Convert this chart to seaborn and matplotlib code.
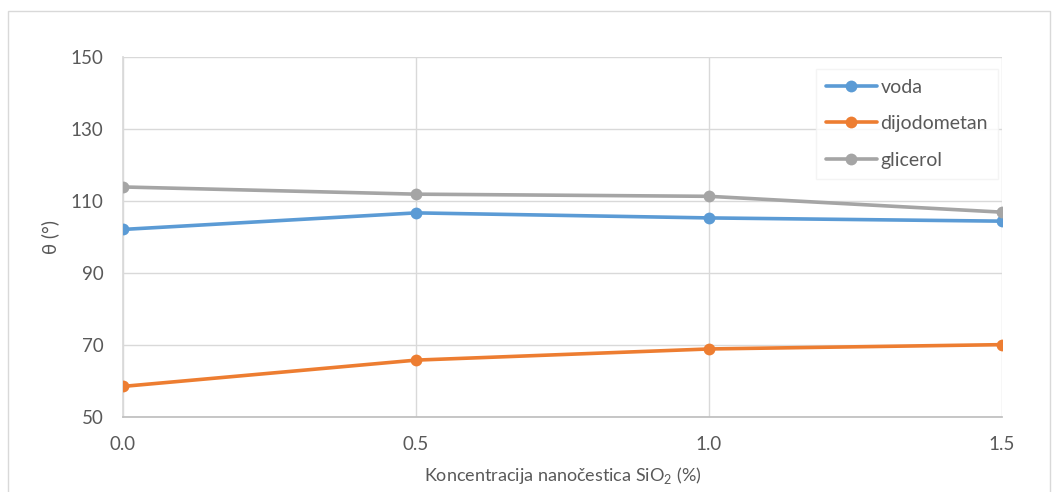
import matplotlib
matplotlib.use("Agg")
import matplotlib.pyplot as plt
import seaborn as sns
import pandas as pd
from matplotlib.patches import Rectangle

x_vals = [0.0, 0.5, 1.0, 1.5]
voda = [102.1, 106.7, 105.3, 104.4]
dijodometan = [58.5, 65.8, 68.9, 70.1]
glicerol = [113.9, 111.9, 111.3, 106.9]
series_names = ["voda", "dijodometan", "glicerol"]
colors = ["#5B9BD5", "#ED7D31", "#A5A5A5"]
x_ticks = [0.0, 0.5, 1.0, 1.5]
y_ticks = [50, 70, 90, 110, 130, 150]

sns.set_theme(style="white")
plt.rcParams['font.family'] = ['Lato', 'DejaVu Sans']
plt.rcParams['mathtext.fontset'] = 'custom'
plt.rcParams['mathtext.rm'] = 'Lato'
txt = "#595959"

rows = []
for name, vals in zip(series_names, [voda, dijodometan, glicerol]):
    for xv, yv in zip(x_vals, vals):
        rows.append({"x": xv, "y": yv, "serija": name})
df = pd.DataFrame(rows)

fig = plt.figure(figsize=(10.54, 4.92), dpi=100)
fig.patches.append(Rectangle((8/1054, -0.01), (1050-8)/1054, 1 - 11/492 + 0.01,
                             transform=fig.transFigure, fill=False,
                             edgecolor="#D9D9D9", linewidth=1.0))
ax = fig.add_axes([123/1054, 1 - 417/492, (1002 - 123)/1054, (417 - 57)/492])

sns.lineplot(data=df, x="x", y="y", hue="serija", hue_order=series_names,
             palette=colors, marker="o", markersize=8.5, markeredgewidth=0,
             linewidth=2.6, ax=ax, legend=True, zorder=3)

ax.set_xlim(0, 1.5)
ax.set_ylim(50, 150)
ax.set_xticks(x_ticks)
ax.set_xticklabels([f"{v:.1f}" for v in x_ticks])
ax.set_yticks(y_ticks)
ax.grid(True, color="#D9D9D9", linewidth=1.0)
ax.set_axisbelow(True)
for s in ["top", "right"]:
    ax.spines[s].set_visible(False)
ax.spines["left"].set_color("#D9D9D9")
ax.spines["bottom"].set_color("#BFBFBF")
ax.tick_params(axis="both", length=0, labelsize=13.5, labelcolor=txt)
ax.tick_params(axis="x", pad=14)
ax.tick_params(axis="y", pad=14)
ax.set_xlabel("Koncentracija nanočestica SiO$_\\mathregular{2}$ (%)", fontsize=13, color=txt, labelpad=8)
ax.set_ylabel("θ (°)", fontsize=13.5, color=txt, labelpad=8)

leg = ax.legend(loc="upper right", bbox_to_anchor=(0.9955, 0.968), frameon=True,
                fontsize=14, handlelength=2.6, labelspacing=1.0,
                borderpad=0.52, handletextpad=0.2, borderaxespad=0, fancybox=False)
leg.get_frame().set_edgecolor("#F2F2F2")
leg.get_frame().set_facecolor("white")
for t in leg.get_texts():
    t.set_color(txt)

fig.savefig("out.png", dpi=100)
